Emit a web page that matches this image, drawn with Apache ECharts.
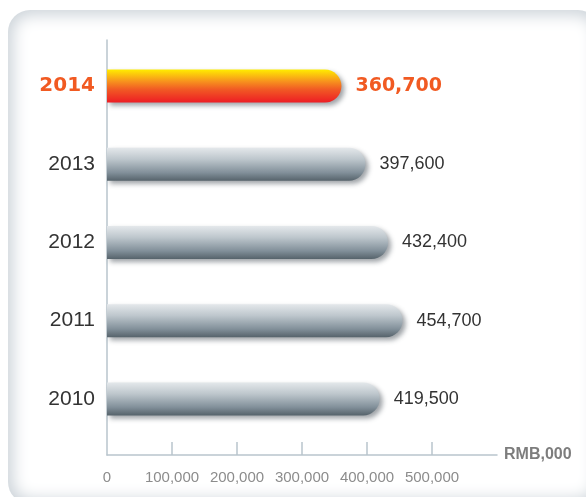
<!DOCTYPE html>
<html>
<head>
<meta charset="utf-8">
<script src="https://cdn.jsdelivr.net/npm/echarts@6/dist/echarts.min.js"></script>
<style>
  html, body { margin: 0; padding: 0; background: #fff; overflow: hidden; }
  #panel {
    position: absolute; left: 8px; top: 10px; width: 592px; height: 494px;
    border-radius: 22px; background: #fff;
    box-shadow: inset 0 0 16px 5px #ccd3d9;
  }
  #main { position: absolute; left: 0; top: 0; width: 586px; height: 497px; }
</style>
</head>
<body>
<div id="panel"></div>
<div id="main"></div>
<script>
// 年份（从上到下）
var years = ["2014", "2013", "2012", "2011", "2010"];
// 数值 RMB,000
var amounts = [360700, 397600, 432400, 454700, 419500];
// 横轴刻度
var tickValues = [0, 100000, 200000, 300000, 400000, 500000];
var highlightYear = "2014";

var chart = echarts.init(document.getElementById("main"));

var grayBar = new echarts.graphic.LinearGradient(0, 0, 0, 1, [
    {offset: 0, color: "#e4e8eb"},
    {offset: 0.35, color: "#bdc6cc"},
    {offset: 0.75, color: "#82909a"},
    {offset: 1, color: "#56636b"}
]);
var hotBar = new echarts.graphic.LinearGradient(0, 0, 0, 1, [
    {offset: 0, color: "#ffec00"},
    {offset: 0.35, color: "#f7941d"},
    {offset: 0.6, color: "#f15a24"},
    {offset: 1, color: "#ed1c24"}
]);

function fmt(v){
    return Number(v).toLocaleString("en-US");
}

var barData = amounts.map(function(v, i){
    var hot = years[i] === highlightYear;
    return {
        value: v,
        itemStyle: {color: hot ? hotBar : grayBar},
        label: hot ? {fontFamily: "DejaVu Sans", fontWeight: "bold", fontSize: 19, color: "#f15a22"} : {}
    };
});

var option = {
    animation: false,
    grid: [
        {left: 107, right: 89, top: 47, bottom: 59},
        {left: 107, right: 89, top: 40, bottom: 42}
    ],
    xAxis: [
        {gridIndex: 0, type: "value", min: 0, max: 600000, interval: 100000, show: false},
        {
            gridIndex: 1, type: "value", min: 0, max: 600000, interval: 100000,
            axisLine: {show: true, lineStyle: {color: "#b9c5cd", width: 1.5}},
            axisTick: {show: true, inside: true, length: 13, customValues: tickValues.slice(1),
                lineStyle: {color: "#b9c5cd", width: 1.5}},
            axisLabel: {customValues: tickValues, formatter: fmt, margin: 15,
                fontFamily: "Liberation Sans", fontSize: 15, color: "#8c8c8c"},
            splitLine: {show: false},
            name: "RMB,000",
            nameLocation: "end",
            nameGap: 7,
            nameTextStyle: {fontFamily: "Liberation Sans", fontWeight: "bold", fontSize: 16,
                color: "#7d7d7d", verticalAlign: "middle", padding: [4, 0, 0, 0]}
        }
    ],
    yAxis: [
        {
            gridIndex: 0, type: "category", data: years, inverse: true,
            axisLine: {show: false}, axisTick: {show: false},
            axisLabel: {
                margin: 12,
                formatter: function(v){ return v === highlightYear ? "{hot|" + v + "}" : "{n|" + v + "}"; },
                rich: {
                    hot: {fontFamily: "DejaVu Sans", fontWeight: "bold", fontSize: 20, color: "#f15a22"},
                    n: {fontFamily: "Liberation Sans", fontSize: 21, color: "#333"}
                }
            }
        },
        {
            gridIndex: 1, type: "value", min: 0, max: 1,
            axisLine: {show: true, lineStyle: {color: "#b9c5cd", width: 1.5}},
            axisTick: {show: false}, axisLabel: {show: false}, splitLine: {show: false}
        }
    ],
    series: [{
        type: "bar",
        xAxisIndex: 0,
        yAxisIndex: 0,
        barWidth: 33,
        data: barData,
        itemStyle: {
            borderRadius: [0, 17, 17, 0],
            shadowColor: "rgba(40,50,60,0.45)",
            shadowBlur: 5,
            shadowOffsetX: 3,
            shadowOffsetY: 3
        },
        label: {
            show: true,
            position: "right",
            distance: 14,
            formatter: function(p){ return fmt(p.value); },
            fontFamily: "Liberation Sans",
            fontSize: 18,
            color: "#333"
        }
    }]
};
chart.setOption(option);
</script>
</body>
</html>
